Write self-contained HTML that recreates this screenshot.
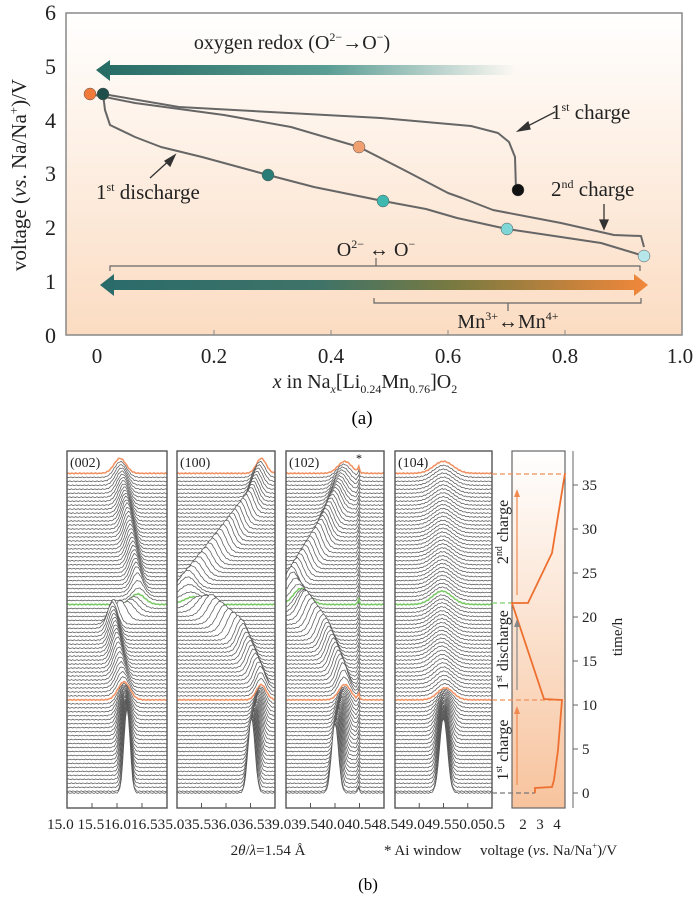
<!DOCTYPE html>
<html><head><meta charset="utf-8"><style>
html,body{margin:0;padding:0;background:#fff;}
svg{display:block;font-family:"Liberation Serif",serif;}
</style></head><body>
<svg id="s" width="700" height="899" viewBox="0 0 700 899" xmlns="http://www.w3.org/2000/svg">
<defs>
<linearGradient id="bg" x1="0" y1="0" x2="0" y2="1"><stop offset="0" stop-color="#fff"/><stop offset="1" stop-color="#fbdcc2"/></linearGradient>
<linearGradient id="ar1" x1="0" y1="0" x2="1" y2="0"><stop offset="0" stop-color="#256b63"/><stop offset="0.55" stop-color="#5a9d94"/><stop offset="1" stop-color="#5a9d94" stop-opacity="0"/></linearGradient>
<linearGradient id="ar2" x1="0" y1="0" x2="1" y2="0"><stop offset="0" stop-color="#2a6b6a"/><stop offset="0.4" stop-color="#3f7368"/><stop offset="0.65" stop-color="#7a7a40"/><stop offset="1" stop-color="#f2873a"/></linearGradient>
<linearGradient id="vb" x1="0" y1="0" x2="0" y2="1"><stop offset="0" stop-color="#fff"/><stop offset="1" stop-color="#f7c39d"/></linearGradient>
</defs>
<!-- top chart -->
<rect x="66" y="13" width="616" height="322" fill="url(#bg)" stroke="#888" stroke-width="1.5"/>
<g font-size="22" text-anchor="end" fill="#222">
<text x="56" y="20">6</text><text x="56" y="74">5</text><text x="56" y="128">4</text><text x="56" y="181">3</text><text x="56" y="235">2</text><text x="56" y="289">1</text><text x="56" y="343">0</text></g>
<g font-size="21" text-anchor="middle" fill="#222">
<text x="97" y="363">0</text><text x="214" y="363">0.2</text><text x="331" y="363">0.4</text><text x="448" y="363">0.6</text><text x="565" y="363">0.8</text><text x="680" y="363">1.0</text></g>
<g stroke="#888" stroke-width="1"><line x1="214" y1="335" x2="214" y2="330"/><line x1="331" y1="335" x2="331" y2="330"/><line x1="448" y1="335" x2="448" y2="330"/><line x1="565" y1="335" x2="565" y2="330"/></g>
<text transform="translate(26,175) rotate(-90)" font-size="21" text-anchor="middle" fill="#222">voltage (<tspan font-style="italic">vs</tspan>. Na/Na<tspan font-size="13" dy="-8">+</tspan><tspan dy="8">)/V</tspan></text>
<text x="365" y="388" font-size="20" text-anchor="middle" fill="#222"><tspan font-style="italic">x</tspan> in Na<tspan font-size="12" dy="5" font-style="italic">x</tspan><tspan dy="-5">[Li</tspan><tspan font-size="12" dy="5">0.24</tspan><tspan dy="-5">Mn</tspan><tspan font-size="12" dy="5">0.76</tspan><tspan dy="-5">]O</tspan><tspan font-size="12" dy="5">2</tspan></text>
<text x="362" y="424" font-size="19" text-anchor="middle">(a)</text>
<text x="292" y="49" font-size="20" text-anchor="middle" fill="#222">oxygen redox (O<tspan font-size="12" dy="-8">2−</tspan><tspan dy="8">→O</tspan><tspan font-size="12" dy="-8">−</tspan><tspan dy="8">)</tspan></text>
<polygon points="96,70 110,60 110,65 516,65 516,75 110,75 110,81" fill="url(#ar1)"/>
<polygon points="100,285 114,274 114,280 634,280 634,274 648,285 634,296 634,290 114,290 114,296" fill="url(#ar2)"/>
<g stroke="#666" stroke-width="1.2" fill="none">
<polyline points="110,271 110,266 640,266 640,271"/><line x1="376" y1="266" x2="376" y2="258"/>
<polyline points="374,298 374,303 641,303 641,298"/><line x1="508" y1="303" x2="508" y2="311"/></g>
<text x="376" y="256" font-size="20" text-anchor="middle" fill="#222">O<tspan font-size="12" dy="-8">2−</tspan><tspan dy="8"> ↔ O</tspan><tspan font-size="12" dy="-8">−</tspan></text>
<text x="508" y="328" font-size="20" text-anchor="middle" fill="#222">Mn<tspan font-size="12" dy="-8">3+</tspan><tspan dy="8">↔Mn</tspan><tspan font-size="12" dy="-8">4+</tspan></text>
<g fill="none" stroke="#666" stroke-width="2" stroke-linejoin="round">
<polyline points="103,94 179,107 381,118 471,126 498,133 509,142 515,157 516,190"/>
<polyline points="103,94 105,110 110,125 135,137 161,147 202,157 268,175 314,187 383,201 426,209 457,218 507,229 561,237 601,243 644,256"/>
<polyline points="90,94 135,103 224,115 291,127 359,147 404,170 448,193 462,198 493,210 561,223 614,235 641,236 644,247"/>
</g>
<g stroke="#333" stroke-width="1.3" fill="#333">
<line x1="555" y1="112" x2="522" y2="129"/><polygon points="518,131 528,122 530,129"/>
<line x1="150" y1="178" x2="172" y2="158"/><polygon points="175,155 170,166 165,161"/>
<line x1="604" y1="204" x2="604" y2="224"/><polygon points="604,229 600,220 608,220"/></g>
<text x="551" y="119" font-size="21" fill="#222">1<tspan font-size="12" dy="-8">st</tspan><tspan dy="8"> charge</tspan></text>
<text x="96" y="199" font-size="21" fill="#222">1<tspan font-size="12" dy="-8">st</tspan><tspan dy="8"> discharge</tspan></text>
<text x="551" y="196" font-size="21" fill="#222">2<tspan font-size="12" dy="-8">nd</tspan><tspan dy="8"> charge</tspan></text>
<g stroke="#555" stroke-width="0.5">
<circle cx="90" cy="94" r="6" fill="#f07a3a"/><circle cx="103" cy="94" r="6" fill="#1f4f4a"/>
<circle cx="359" cy="147" r="6" fill="#f0a070"/><circle cx="268" cy="175" r="6" fill="#2a7d77"/>
<circle cx="383" cy="201" r="6" fill="#3fb8b0"/><circle cx="507" cy="229" r="6" fill="#7fd6d6"/>
<circle cx="644" cy="256" r="6" fill="#b7e6ea"/><circle cx="518" cy="190" r="6" fill="#111"/></g>
<!-- bottom -->
<g id="wf"></g>
<rect x="512" y="451" width="53" height="357" fill="url(#vb)" stroke="#666" stroke-width="1.2"/>
<g stroke-width="1.2" stroke-dasharray="5,3">
<line x1="492" y1="474" x2="565" y2="474" stroke="#f0905a"/><line x1="492" y1="700" x2="565" y2="700" stroke="#f0905a"/>
<line x1="492" y1="603" x2="512" y2="603" stroke="#7ccf6a"/><line x1="492" y1="793" x2="535" y2="793" stroke="#777"/></g>
<polyline points="535,793 535,788 552,787 554,780 558,750 562,700 544,699 512,603 528,603 552,553 565,473" fill="none" stroke="#ee7030" stroke-width="1.8"/>
<g stroke-width="1.2"><line x1="517" y1="785" x2="517" y2="712" stroke="#f08a50"/><polygon points="517,706 514,714 520,714" fill="#f08a50"/>
<line x1="517" y1="690" x2="517" y2="625" stroke="#888"/><polygon points="517,619 514,627 520,627" fill="#888"/>
<line x1="517" y1="595" x2="517" y2="495" stroke="#f08a50"/><polygon points="517,489 514,497 520,497" fill="#f08a50"/></g>
<g font-size="16" fill="#222" text-anchor="middle">
<text transform="translate(508,750) rotate(-90)">1<tspan font-size="10" dy="-6">st</tspan><tspan dy="6"> charge</tspan></text>
<text transform="translate(508,650) rotate(-90)">1<tspan font-size="10" dy="-6">st</tspan><tspan dy="6"> discharge</tspan></text>
<text transform="translate(508,532) rotate(-90)">2<tspan font-size="10" dy="-6">nd</tspan><tspan dy="6"> charge</tspan></text></g>
<g stroke="#666" stroke-width="1"><line x1="573" y1="451" x2="573" y2="808"/></g>
<g font-size="15" fill="#222"><text x="582" y="798">0</text><text x="582" y="754">5</text><text x="582" y="710">10</text><text x="582" y="666">15</text><text x="582" y="622">20</text><text x="582" y="578">25</text><text x="582" y="534">30</text><text x="582" y="490">35</text></g>
<g stroke="#666"><line x1="573" y1="793" x2="578" y2="793"/><line x1="573" y1="749" x2="578" y2="749"/><line x1="573" y1="705" x2="578" y2="705"/><line x1="573" y1="661" x2="578" y2="661"/><line x1="573" y1="617" x2="578" y2="617"/><line x1="573" y1="573" x2="578" y2="573"/><line x1="573" y1="529" x2="578" y2="529"/><line x1="573" y1="485" x2="578" y2="485"/></g>
<text transform="translate(622,637) rotate(-90)" font-size="15" text-anchor="middle" fill="#222">time/h</text>
<text x="47" y="829" font-size="15" textLength="458" lengthAdjust="spacingAndGlyphs" fill="#222">15.0 15.516.016.535.035.536.036.539.039.540.040.548.549.049.550.050.5</text>
<g font-size="15" fill="#222" text-anchor="middle"><text x="523" y="829">2</text><text x="540" y="829">3</text><text x="557" y="829">4</text></g>
<text x="268" y="855" font-size="15" text-anchor="middle" fill="#222">2<tspan font-style="italic">θ</tspan>/<tspan font-style="italic">λ</tspan>=1.54 Å</text>
<text x="384" y="855" font-size="15" fill="#222">* Ai window</text>
<text x="480" y="855" font-size="15" fill="#222">voltage (<tspan font-style="italic">vs</tspan>. Na/Na<tspan font-size="9" dy="-6">+</tspan><tspan dy="6">)/V</tspan></text>
<text x="368" y="890" font-size="17" text-anchor="middle">(b)</text>
</svg>
<script>
(function(){
var NS="http://www.w3.org/2000/svg",g=document.getElementById("wf");
var panels=[
{x0:67,x1:167,lab:"(002)",k:[[0,.6,85,.03],[5,.58,50,.04],[10.5,.57,18,.06],[15,.5,28,.05],[19,.45,26,.05],[20,.6,15,.07],[21.5,.72,10,.07],[23,.7,22,.05],[30,.6,26,.05],[36.2,.53,15,.06]]},
{x0:177,x1:275,lab:"(100)",k:[[0,.76,75,.035],[5,.8,45,.04],[10.5,.86,15,.05],[12,.85,22,.05],[17,.65,25,.06],[20,.35,22,.08],[21.5,.15,6,.1],[23,.1,18,.08],[28,.5,25,.06],[32,.75,22,.05],[36.2,.86,15,.05]]},
{x0:286,x1:384,lab:"(102)",al:1,k:[[0,.5,70,.035],[5,.55,45,.04],[10.5,.6,15,.06],[12,.58,26,.05],[17,.4,26,.06],[20,.2,26,.07],[21.5,.15,15,.08],[23,.05,22,.06],[28,.35,26,.06],[32,.5,22,.06],[36.2,.6,12,.07]]},
{x0:395,x1:492,lab:"(104)",k:[[0,.5,75,.04],[5,.5,45,.05],[10.5,.52,12,.08],[15,.48,14,.1],[36.2,.5,12,.1]]}];
function interp(k,t){for(var i=0;i<k.length-1;i++){if(t<=k[i+1][0]){var a=k[i],b=k[i+1],f=(t-a[0])/(b[0]-a[0]);return [a[1]+(b[1]-a[1])*f,a[2]+(b[2]-a[2])*f,a[3]+(b[3]-a[3])*f];}}var l=k[k.length-1];return [l[1],l[2],l[3]];}
var ts=[];for(var t=36.2;t>=0;t-=0.45)ts.push(t);if(ts[ts.length-1]>0.01)ts.push(0);
panels.forEach(function(P,pi){
 var cid="c"+pi,cp=document.createElementNS(NS,"clipPath");cp.setAttribute("id",cid);
 var r=document.createElementNS(NS,"rect");r.setAttribute("x",P.x0);r.setAttribute("y",451);r.setAttribute("width",P.x1-P.x0);r.setAttribute("height",357);cp.appendChild(r);g.appendChild(cp);
 var gg=document.createElementNS(NS,"g");gg.setAttribute("clip-path","url(#"+cid+")");g.appendChild(gg);
 var bgR=document.createElementNS(NS,"rect");bgR.setAttribute("x",P.x0);bgR.setAttribute("y",451);bgR.setAttribute("width",P.x1-P.x0);bgR.setAttribute("height",357);bgR.setAttribute("fill","#fff");gg.appendChild(bgR);
 ts.forEach(function(t,idx){
  var base=793-t*8.83,pr=interp(P.k,t),W=P.x1-P.x0,d="",n=70;
  for(var i=0;i<=n;i++){var f=i/n,y=base-pr[1]*Math.exp(-(f-pr[0])*(f-pr[0])/(2*pr[2]*pr[2]));
   if(P.al)y-=6*Math.exp(-(f-.74)*(f-.74)/(2*.008*.008));
   y-=Math.sin(i*2.3+idx*1.7)*0.5;
   d+=(i?"L":"M")+(P.x0+f*W).toFixed(1)+","+y.toFixed(1);}
  var col="#5a5a5a",sw=0.75;
  if(Math.abs(t-36.2)<0.01||Math.abs(t-10.55)<0.25){col="#f29060";sw=1.5;}
  if(Math.abs(t-21.5)<0.23){col="#78c864";sw=1.5;}
  var p=document.createElementNS(NS,"path");
  p.setAttribute("d",d+"L"+P.x1+",820L"+P.x0+",820Z");p.setAttribute("fill","#fff");p.setAttribute("stroke","none");gg.appendChild(p);
  var q=document.createElementNS(NS,"path");q.setAttribute("d",d);q.setAttribute("fill","none");q.setAttribute("stroke",col);q.setAttribute("stroke-width",sw);gg.appendChild(q);
 });
 var fr=document.createElementNS(NS,"rect");fr.setAttribute("x",P.x0);fr.setAttribute("y",451);fr.setAttribute("width",P.x1-P.x0);fr.setAttribute("height",357);fr.setAttribute("fill","none");fr.setAttribute("stroke","#555");fr.setAttribute("stroke-width","1.4");g.appendChild(fr);
 for(var j=1;j<4;j++){var tl=document.createElementNS(NS,"line"),xx=P.x0+(P.x1-P.x0)*j/4;tl.setAttribute("x1",xx);tl.setAttribute("x2",xx);tl.setAttribute("y1",808);tl.setAttribute("y2",803);tl.setAttribute("stroke","#555");g.appendChild(tl);}
 var tx=document.createElementNS(NS,"text");tx.setAttribute("x",P.x0+3);tx.setAttribute("y",467);tx.setAttribute("font-size","14");tx.setAttribute("fill","#222");tx.textContent=P.lab;g.appendChild(tx);
});
var st=document.createElementNS(NS,"text");st.setAttribute("x",356);st.setAttribute("y",462);st.setAttribute("font-size","12");st.textContent="*";g.appendChild(st);
})();
</script>
</body></html>
